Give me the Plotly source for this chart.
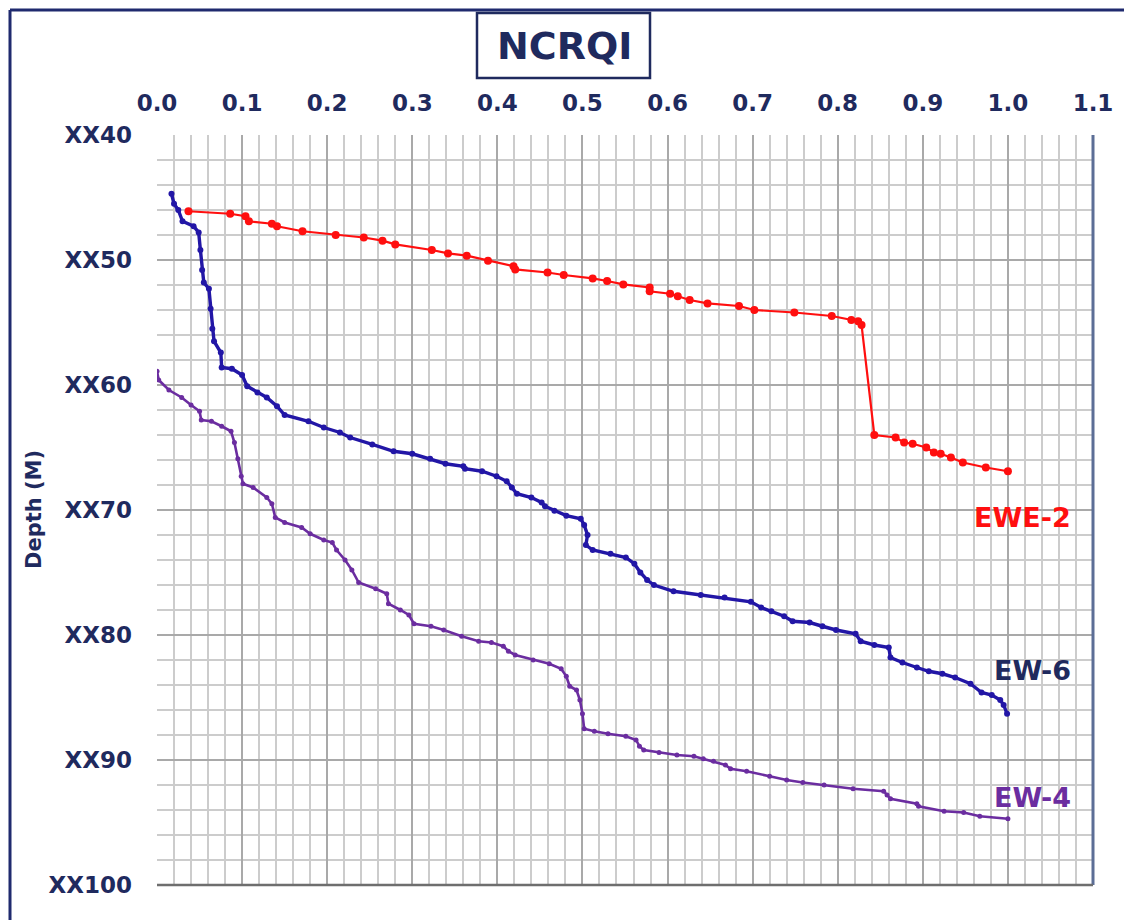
import plotly.graph_objects as go

# ---------------- data ----------------
ewe2_x = [0.037, 0.086, 0.104, 0.108, 0.135, 0.141, 0.171, 0.21, 0.243, 0.265, 0.28, 0.323, 0.342,
          0.364, 0.389, 0.419, 0.421, 0.459, 0.478, 0.512, 0.529, 0.548, 0.579, 0.579, 0.603, 0.612,
          0.626, 0.647, 0.684, 0.702, 0.749, 0.793, 0.816, 0.824, 0.828, 0.843, 0.868, 0.878, 0.888,
          0.904, 0.913, 0.921, 0.933, 0.947, 0.974, 1.0]
ewe2_d = [46.1, 46.3, 46.5, 46.9, 47.1, 47.3, 47.7, 48.0, 48.2, 48.45, 48.75, 49.2, 49.47,
          49.65, 50.05, 50.5, 50.75, 51.0, 51.2, 51.47, 51.68, 51.95, 52.2, 52.5, 52.7, 52.9,
          53.2, 53.47, 53.68, 54.0, 54.2, 54.48, 54.8, 54.9, 55.2, 64.0, 64.2, 64.6, 64.7,
          65.0, 65.4, 65.5, 65.8, 66.2, 66.6, 66.9]

ew6_x = [0.017, 0.02, 0.025, 0.03, 0.043, 0.049, 0.051, 0.053, 0.055, 0.061, 0.063, 0.065, 0.067,
         0.075, 0.076, 0.088, 0.1, 0.106, 0.118, 0.129, 0.141, 0.150, 0.178, 0.196, 0.215, 0.227,
         0.253, 0.278, 0.3, 0.321, 0.339, 0.36, 0.362, 0.382, 0.399, 0.411, 0.417, 0.423, 0.44,
         0.452, 0.456, 0.467, 0.481, 0.498, 0.502, 0.506, 0.504, 0.512, 0.533, 0.551, 0.561, 0.568,
         0.576, 0.584, 0.607, 0.639, 0.667, 0.698, 0.71, 0.722, 0.737, 0.747, 0.767, 0.782, 0.798,
         0.821, 0.827, 0.843, 0.86, 0.862, 0.876, 0.893, 0.907, 0.923, 0.938, 0.956, 0.969, 0.981,
         0.991, 0.995, 0.999]
ew6_d = [44.7, 45.5, 46.0, 46.9, 47.3, 47.8, 49.2, 50.8, 51.8, 52.3, 53.9, 55.5, 56.5,
         57.4, 58.6, 58.7, 59.2, 60.1, 60.6, 61.0, 61.7, 62.4, 62.9, 63.4, 63.8, 64.2,
         64.75, 65.3, 65.5, 65.9, 66.3, 66.5, 66.7, 66.9, 67.3, 67.7, 68.2, 68.7, 69.0,
         69.4, 69.7, 70.05, 70.45, 70.7, 71.2, 72.0, 72.8, 73.2, 73.5, 73.8, 74.3, 75.0,
         75.6, 76.0, 76.5, 76.8, 77.0, 77.35, 77.8, 78.1, 78.5, 78.9, 79.0, 79.3, 79.6,
         79.9, 80.5, 80.8, 81.0, 81.8, 82.2, 82.6, 82.9, 83.1, 83.4, 83.9, 84.6, 84.8,
         85.2, 85.6, 86.3]

ew4_x = [0.0, 0.002, 0.014, 0.029, 0.04, 0.05, 0.052, 0.064, 0.076, 0.087, 0.091, 0.095, 0.099,
         0.101, 0.113, 0.129, 0.135, 0.139, 0.15, 0.17, 0.18, 0.196, 0.206, 0.211, 0.221, 0.229,
         0.237, 0.257, 0.27, 0.272, 0.286, 0.296, 0.302, 0.322, 0.337, 0.358, 0.378, 0.393, 0.407,
         0.413, 0.421, 0.442, 0.461, 0.475, 0.481, 0.485, 0.493, 0.497, 0.5, 0.502, 0.514, 0.53,
         0.551, 0.563, 0.567, 0.572, 0.59, 0.611, 0.631, 0.642, 0.654, 0.668, 0.674, 0.693, 0.72,
         0.74, 0.759, 0.784, 0.818, 0.854, 0.858, 0.862, 0.893, 0.895, 0.925, 0.948, 0.967, 1.0]
ew4_d = [58.9, 59.6, 60.4, 61.0, 61.6, 62.1, 62.8, 62.9, 63.3, 63.7, 64.6, 65.9, 67.3,
         67.9, 68.2, 69.0, 69.5, 70.6, 71.0, 71.4, 71.9, 72.4, 72.6, 73.2, 74.0, 74.8,
         75.8, 76.3, 76.7, 77.5, 78.0, 78.4, 79.1, 79.3, 79.6, 80.1, 80.5, 80.6, 80.9,
         81.3, 81.6, 82.0, 82.3, 82.7, 83.3, 84.1, 84.4, 85.2, 86.3, 87.5, 87.7, 87.9,
         88.1, 88.4, 88.9, 89.2, 89.4, 89.6, 89.7, 89.9, 90.1, 90.4, 90.7, 90.9, 91.3,
         91.6, 91.8, 92.0, 92.3, 92.5, 92.8, 93.1, 93.5, 93.7, 94.1, 94.2, 94.5, 94.7]

x_ticks = [0.0, 0.1, 0.2, 0.3, 0.4, 0.5, 0.6, 0.7, 0.8, 0.9, 1.0, 1.1]
x_tick_text = ["0.0", "0.1", "0.2", "0.3", "0.4", "0.5", "0.6", "0.7", "0.8", "0.9", "1.0", "1.1"]
depth_ticks = [40, 50, 60, 70, 80, 90, 100]
depth_tick_text = ["XX40", "XX50", "XX60", "XX70", "XX80", "XX90", "XX100"]

series_names = ["EWE-2", "EW-6", "EW-4"]
# ---------------- style ----------------
NAVY = "#1F2A5E"
RED = "#FF0F0F"
BLUE = "#2216A6"
PURPLE = "#6B2DA0"
FONT = "DejaVu Sans"

# plot area in screen pixels (page body adds an 8px offset)
PL, PR, PT, PB = 157, 1093, 135, 885
PW, PH = PR - PL, PB - PT


def px(x):
    return (x - PL) / PW


def py(y):
    return (PB - y) / PH


fig = go.Figure()
fig.add_trace(go.Scatter(x=ewe2_x, y=ewe2_d, mode="lines+markers", name=series_names[0],
                         line=dict(color=RED, width=2.2), marker=dict(color=RED, size=8)))
fig.add_trace(go.Scatter(x=ew6_x, y=ew6_d, mode="lines+markers", name=series_names[1],
                         line=dict(color=BLUE, width=3.4), marker=dict(color=BLUE, size=6)))
fig.add_trace(go.Scatter(x=ew4_x, y=ew4_d, mode="lines+markers", name=series_names[2],
                         line=dict(color=PURPLE, width=2.6), marker=dict(color=PURPLE, size=5)))

fig.update_layout(
    width=1124, height=912,
    margin=dict(l=PL - 8, r=1124 - (PR - 8), t=PT - 8, b=912 - (PB - 8)),
    paper_bgcolor="white", plot_bgcolor="white",
    showlegend=False,
    font=dict(family=FONT, color=NAVY),
)
fig.update_xaxes(
    range=[0, 1.1], side="top", tickmode="array", tickvals=x_ticks, ticktext=x_tick_text,
    showgrid=True, gridcolor="#A9A9A9", gridwidth=2,
    minor=dict(tickmode="linear", tick0=0, dtick=0.02, showgrid=True, gridcolor="#CCCCCC", gridwidth=2),
    zeroline=False, showline=False, ticks="", ticklabelstandoff=18,
    tickfont=dict(family=FONT, size=23, color=NAVY, weight="bold"), automargin=False,
)
fig.update_yaxes(
    range=[100, 40], tickmode="array", tickvals=depth_ticks, ticktext=depth_tick_text,
    showgrid=True, gridcolor="#A9A9A9", gridwidth=2,
    minor=dict(tickmode="linear", tick0=40, dtick=2, showgrid=True, gridcolor="#CCCCCC", gridwidth=2),
    zeroline=False, showline=False, ticks="", ticklabelstandoff=24,
    tickfont=dict(family=FONT, size=23, color=NAVY, weight="bold"), automargin=False,
)

# frame lines: right edge and bottom edge of plot area
fig.add_shape(type="line", xref="paper", yref="paper", x0=1, x1=1, y0=0, y1=1,
              line=dict(color="#5C6E96", width=3))
fig.add_shape(type="line", xref="paper", yref="paper", x0=0, x1=1, y0=0, y1=0,
              line=dict(color="#6E6E6E", width=2.5))
# outer border (left and top)
fig.add_shape(type="line", xref="paper", yref="paper", x0=px(10), x1=px(10), y0=py(925), y1=py(10),
              line=dict(color="#1F2A6E", width=3))
fig.add_shape(type="line", xref="paper", yref="paper", x0=px(10), x1=px(1140), y0=py(10), y1=py(10),
              line=dict(color="#1F2A6E", width=3))
# title box
fig.add_shape(type="rect", xref="paper", yref="paper", x0=px(477), x1=px(650), y0=py(78), y1=py(13),
              line=dict(color=NAVY, width=2.5), fillcolor="white")
fig.add_annotation(text="<b>NCRQI</b>", xref="paper", yref="paper", x=px(564), y=py(46),
                   showarrow=False, font=dict(family=FONT, size=38, color=NAVY),
                   xanchor="center", yanchor="middle")
# y axis title
fig.add_annotation(text="<b>Depth (M)</b>", xref="paper", yref="paper",
                   x=px(34), y=py(510), textangle=-90, showarrow=False,
                   font=dict(family=FONT, size=21, color=NAVY), xanchor="center", yanchor="middle")
# series labels
label_specs = [(series_names[0], 70.6, RED), (series_names[1], 82.8, NAVY),
               (series_names[2], 93.0, PURPLE)]
for name, ly, col in label_specs:
    fig.add_annotation(text=f"<b>{name}</b>", x=1.077, y=ly, xref="x", yref="y", showarrow=False,
                       font=dict(family=FONT, size=27, color=col), xanchor="right", yanchor="middle")

fig.write_html("out.html")
